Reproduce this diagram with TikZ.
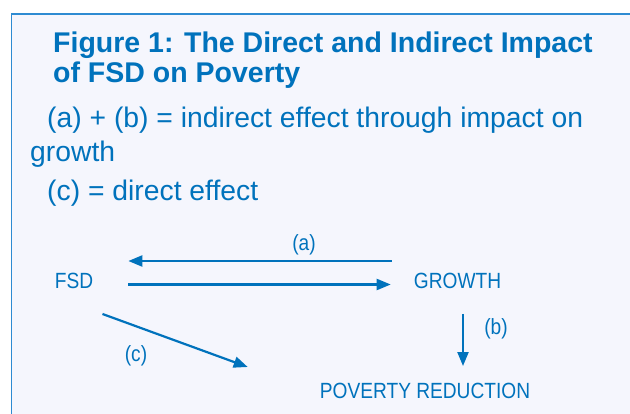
\documentclass[tikz,border=0pt]{standalone}
\usepackage{fontspec}
\setmainfont{Liberation Sans}
\newfontfamily\narrowfont[FakeStretch=0.87]{Liberation Sans}
\usetikzlibrary{arrows.meta}
\definecolor{fsdblue}{HTML}{0072BC}
\definecolor{boxline}{HTML}{2E8BD2}
\definecolor{boxfill}{HTML}{F5F6FD}

\begin{document}
\begin{tikzpicture}[x = 1pt, y = -1pt,
  txt/.style = {anchor = base west, inner sep = 0, text = fsdblue},
  lbl/.style = {inner sep = 0, text = fsdblue, font = \narrowfont\fontsize{22}{24}\selectfont},
  arr/.style = {draw = fsdblue, line width = 2.2pt, -{Triangle[length = 14pt, width = 11pt]}}]
\useasboundingbox (0, 0) rectangle (630, 414);
\fill[boxfill] (11.5, 14) rectangle (640, 420);
\draw[boxline, line width = 1.6pt] (11.5, 420) -- (11.5, 14) -- (640, 14);
\node[txt, font = \bfseries\fontsize{28.5}{30}\selectfont] (title1) at (53, 53) {Figure 1: The Direct and Indirect Impact};
\node[txt, font = \bfseries\fontsize{28.5}{30}\selectfont] (title2) at (53, 83) {of FSD on Poverty};
\node[txt, font = \fontsize{28.3}{30}\selectfont] (line1) at (47, 128) {(a) + (b) = indirect effect through impact on};
\node[txt, font = \fontsize{28.3}{30}\selectfont] (line2) at (30, 162) {growth};
\node[txt, font = \fontsize{28.3}{30}\selectfont] (line3) at (47, 201) {(c) = direct effect};
\node[lbl] (fsd) at (74, 281) {FSD};
\node[lbl] (grow) at (457.5, 281) {GROWTH};
\node[lbl] (pov) at (425, 391) {POVERTY REDUCTION};
\node[lbl] (la) at (304, 245) {(a)};
\node[lbl] (lb) at (496, 329) {(b)};
\node[lbl] (lc) at (136, 356) {(c)};
\draw[arr, shorten <= 22pt, shorten >= 35pt] ([yshift = 20pt]grow.west) -- ([yshift = 20pt]fsd.east);
\draw[arr, shorten <= 35pt, shorten >= 23pt] ([yshift = -3.5pt]fsd.east) -- ([yshift = -3.5pt]grow.west);
\draw[arr, shorten <= 25pt, shorten >= 17pt] ([xshift = 5.5pt]grow.south) -- ([xshift = 5.5pt]grow.south |- pov.north);
\draw[arr] ([xshift = 28.5pt, yshift = -25pt]fsd.south) -- ([xshift = -72pt, yshift = 24pt]pov.west);
\end{tikzpicture}
\end{document}
